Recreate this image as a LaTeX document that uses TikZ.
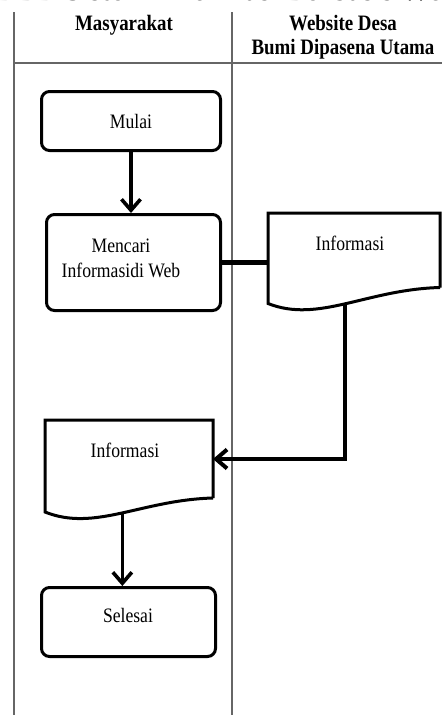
\documentclass[tikz,border=0pt]{standalone}
\usepackage{fontspec}
\setmainfont{Liberation Serif}[FakeStretch=0.86]
\usetikzlibrary{arrows.meta,calc}

\begin{document}
\begin{tikzpicture}[x=1pt,y=-1pt,
	lane/.style={line width=1.4pt,black!60},
	terminal/.style={draw,line width=3pt,rounded corners=8pt,inner sep=0pt},
	docbox/.style={inner sep=0pt,outer sep=1.5pt},
	flow/.style={line width=3.6pt},
	flowarrow/.style={flow,-{Straight Barb[length=11pt,width=19pt]}},
	txt/.style={font=\fontsize{20.5}{25}\selectfont,inner sep=0pt},
	head/.style={font=\bfseries\fontsize{22}{24}\selectfont,inner sep=0pt}]
		%%%%% START %%%%%
		\useasboundingbox (0,0) rectangle (442,715);
		\fill[white] (0,0) rectangle (442,715);
		
		\node[anchor=base west,inner sep=0pt,font=\bfseries\fontsize{34}{36}\selectfont] (title) at (-4,0) {DBD Sistem Informasi Berbasis Web};
		
		\draw[lane] (14,12) -- (14,715);
		\draw[lane] (232,12) -- (232,715);
		\draw[lane] (14,63) -- (442,63);
		
		\node[head,anchor=base] (hmas) at (124,30) {Masyarakat};
		\node[head,anchor=base] (hweb) at (343,30) {Website Desa};
		\node[head,anchor=base] (hbumi) at (343,54) {Bumi Dipasena Utama};
		
		\node[terminal,minimum width=179pt,minimum height=59pt,txt] (mulai) at (131,121) {Mulai};
		
		\node[terminal,minimum width=174pt,minimum height=96pt] (cari) at (133.5,262.5) {};
		\node[txt,align=center] (caritxt) at (121,258) {Mencari\\Informasidi Web};
		
		\node[docbox,minimum width=169pt,minimum height=71.5pt] (info1) at (354,250.25) {};
		\draw[line width=3pt,line join=miter] (info1.south east) -- (info1.north east) -- (info1.north west) -- ($(info1.south west)+(0,16)$)
			.. controls ($(info1.south west)+(50.5,36)$) and ($(info1.south east)+(-73.5,2)$) .. coordinate[pos=0.5] (info1out) (info1.south east);
		\node[txt] (info1txt) at (350,243) {Informasi};
		
		\node[docbox,minimum width=165pt,minimum height=75pt] (info2) at (129,459) {};
		\draw[line width=3pt,line join=miter] (info2.south east) -- (info2.north east) -- (info2.north west) -- ($(info2.south west)+(0,14)$)
			.. controls ($(info2.south west)+(50,34)$) and ($(info2.south east)+(-72,2)$) .. coordinate[pos=0.51] (info2out) (info2.south east);
		\node[txt] (info2txt) at (125,450) {Informasi};
		
		\node[terminal,minimum width=174pt,minimum height=69pt] (selesai) at (128.5,622) {};
		\node[txt] (selesaitxt) at (128,615) {Selesai};
		
		\draw[flowarrow] (mulai.south) -- (mulai.south |- cari.north);
		\draw[flow,line width=5pt] (cari.east) -- (cari.east -| info1.west);
		\draw[flowarrow,line width=4pt] (info1out) |- (info2.east);
		\draw[flowarrow] (info2out) -- (info2out |- selesai.north);
		%%%%% END %%%%%
\end{tikzpicture}
\end{document}
